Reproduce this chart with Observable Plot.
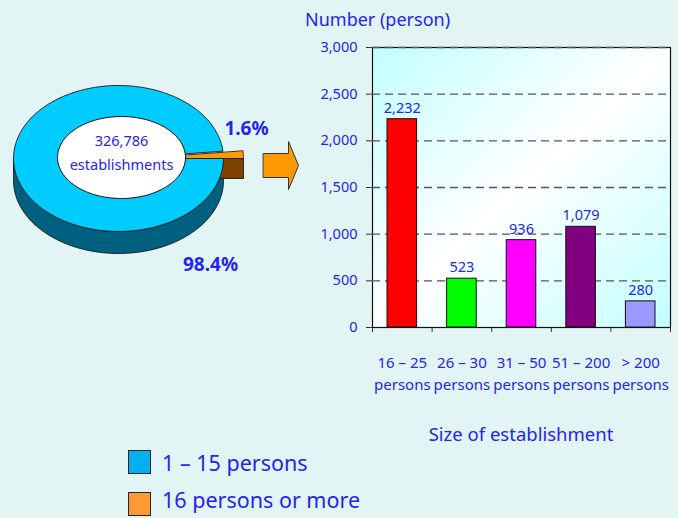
<!DOCTYPE html>
<html><head><meta charset="utf-8">
<script src="https://cdn.jsdelivr.net/npm/d3@7"></script>
<script src="https://cdn.jsdelivr.net/npm/@observablehq/plot@0.6"></script>
<style>
body{margin:0;background:#e2f5f4;}
#wrap{position:relative;width:678px;height:518px;background:#e2f5f4;font-family:"Noto Sans",sans-serif;color:#2424f0;overflow:hidden}
.abs{position:absolute;white-space:nowrap;line-height:1}
.sw{position:absolute;border:1.5px solid #222;box-sizing:border-box}
</style></head><body><div id="wrap"></div>
<script>
// ---- data ----
const sizeGroups = ["16 – 25", "26 – 30", "31 – 50", "51 – 200", "> 200"];
const sizeUnit = "persons";
const persons = [2232, 523, 936, 1079, 280];
const barColors = ["#ff0000", "#00ff00", "#ff00ff", "#800080", "#9999ff"];
const yTicks = [0, 500, 1000, 1500, 2000, 2500, 3000];
const pieLabels = ["1 – 15 persons", "16 persons or more"];
const pieShares = [98.4, 1.6];
const pieTopColors = ["#00ccff", "#ff9900"];
const pieSideColors = ["#006080", "#7f4000"];
const legendColors = ["#00b0f0", "#ff9933"];
const totalEstablishments = 326786;
const yTitle = "Number (person)";
const xTitle = "Size of establishment";

const BLUE = "#2424f0";
const fmt = d3.format(",");
const wrap = document.getElementById("wrap");

// ---- bar chart ----
const bars = persons.map((v, i) => ({i, group: sizeGroups[i], v, color: barColors[i]}));
const barPlot = Plot.plot({
  width: 378, height: 400,
  marginLeft: 72, marginRight: 8, marginTop: 47, marginBottom: 73,
  style: {background: "transparent", fontFamily: "Noto Sans", fontSize: "14px", color: BLUE, overflow: "visible"},
  x: {domain: [0, 5], axis: null},
  y: {domain: [0, 3000], axis: null},
  marks: [
    Plot.frame({fill: "url(#plotGrad)", stroke: "#111", strokeWidth: 1.2}),
    Plot.gridY(yTicks.filter(d => d > 0), {stroke: "#555", strokeOpacity: 1, strokeDasharray: "8,5", strokeWidth: 1.4}),
    Plot.rectY(bars, {x1: "i", x2: d => d.i + 1, y1: 0, y2: "v", fill: "color", stroke: "#111", strokeWidth: 1, insetLeft: 15, insetRight: 15}),
    Plot.text(bars, {x: d => d.i + 0.5, y: "v", text: d => fmt(d.v), dy: -11, fill: BLUE, fontSize: 14.5}),
    Plot.text(bars, {x: d => d.i + 0.5, y: 0, text: "group", dy: 36, fill: BLUE, fontSize: 15}),
    Plot.text(bars, {x: d => d.i + 0.5, y: 0, text: () => sizeUnit, dy: 58, fill: BLUE, fontSize: 15}),
    Plot.axisY(yTicks, {tickSize: 6, tickPadding: 9, tickFormat: fmt, fill: BLUE, stroke: "#333", label: null, fontSize: 14.5}),
    Plot.axisX(d3.range(6), {tickSize: 5, tickFormat: () => "", stroke: "#333", label: null}),
    Plot.ruleY([0], {stroke: "#111", strokeWidth: 1.2})
  ]
});
d3.select(barPlot).insert("defs", ":first-child").html(
  `<linearGradient id="plotGrad" x1="0" y1="0" x2="1" y2="1">
     <stop offset="0" stop-color="#c2ffff"/><stop offset="0.5" stop-color="#ffffff"/><stop offset="1" stop-color="#c2ffff"/>
   </linearGradient>`);
barPlot.style.position = "absolute";
barPlot.style.left = "300px";
barPlot.style.top = "0px";

// ---- 3D pie (left) ----
const cx = 118, cy = 158, rx = 105, ry = 73, depth = 22, explode = 20;
const hole = {cx: 121, cy: 157, rx: 64, ry: 41};
const tEnd = 2 * Math.PI * pieShares[1] / 100; // wedge angle for 16+ share
const pt = (t, dx = 0, dz = 0) => ({x: cx + dx + rx * Math.cos(t), y: cy - ry * Math.sin(t) + dz});
const arc = (a0, a1, dx = 0, dz = 0, n = 120) => d3.range(n + 1).map(k => pt(a0 + (a1 - a0) * k / n, dx, dz));

const mainSide = [...arc(Math.PI, 2 * Math.PI), ...arc(2 * Math.PI, Math.PI, 0, depth)];
const wedgeFace = [{x: cx + explode, y: cy}, {x: cx + explode + rx, y: cy}, {x: cx + explode + rx, y: cy + 20}, {x: cx + explode, y: cy + 20}];
const mainTop = [{x: cx, y: cy}, ...arc(tEnd, 2 * Math.PI)];
const wedgeTop = [{x: cx + explode, y: cy}, ...arc(0, tEnd, explode)];
const holePts = d3.range(121).map(k => {const t = 2 * Math.PI * k / 120; return {x: hole.cx + hole.rx * Math.cos(t), y: hole.cy - hole.ry * Math.sin(t)};});

// block arrow
const ax0 = 263, ax1 = 288, ax2 = 298, ayc = 165, bodyH = 12, headH = 24;
const arrowPts = [
  {x: ax0, y: ayc - bodyH}, {x: ax1, y: ayc - bodyH}, {x: ax1, y: ayc - headH}, {x: ax2, y: ayc},
  {x: ax1, y: ayc + headH}, {x: ax1, y: ayc + bodyH}, {x: ax0, y: ayc + bodyH}
];

const poly = (pts, fill, stroke = "#1a1a1a", sw = 0.9) =>
  Plot.line(pts, {x: "x", y: "y", fill, stroke, strokeWidth: sw, curve: "linear-closed"});

const piePlot = Plot.plot({
  width: 300, height: 300, margin: 0,
  style: {background: "transparent", fontFamily: "Noto Sans", overflow: "visible"},
  x: {type: "identity", axis: null},
  y: {type: "identity", axis: null},
  marks: [
    poly(mainSide, pieSideColors[0]),
    poly(wedgeFace, pieSideColors[1]),
    poly(mainTop, pieTopColors[0]),
    poly(wedgeTop, pieTopColors[1]),
    poly(holePts, "#ffffff", "#111", 1),
    poly(arrowPts, pieTopColors[1], "#333", 1),
    Plot.text([fmt(totalEstablishments), "establishments"], {x: hole.cx, y: (d, i) => hole.cy - 16 + i * 24, text: d => d, fill: BLUE, fontSize: 14.5}),
    Plot.text([pieShares[1]], {x: 246, y: 128, text: d => d.toFixed(1) + "%", fill: BLUE, fontSize: 19, fontWeight: "bold"}),
    Plot.text([pieShares[0]], {x: 210, y: 264, text: d => d.toFixed(1) + "%", fill: BLUE, fontSize: 19, fontWeight: "bold"})
  ]
});
piePlot.style.position = "absolute";
piePlot.style.left = "0px";
piePlot.style.top = "0px";

wrap.appendChild(piePlot);
wrap.appendChild(barPlot);

// titles
const addText = (txt, left, top, size, extra = "") => {
  const d = document.createElement("div");
  d.className = "abs";
  d.style.cssText += `left:${left}px;top:${top}px;font-size:${size}px;${extra}`;
  d.textContent = txt;
  wrap.appendChild(d);
  return d;
};
addText(yTitle, 305, 10, 18);
const xt = addText(xTitle, 0, 425, 18.5);
xt.style.left = (521 - xt.getBoundingClientRect().width / 2) + "px";

// legend
pieLabels.forEach((lab, i) => {
  const sw = document.createElement("div");
  sw.className = "sw";
  sw.style.cssText += `left:128px;top:${450 + i * 42}px;width:23px;height:24px;background:${legendColors[i]}`;
  wrap.appendChild(sw);
  addText(lab, 162, 452 + i * 37, 21.5);
});
</script></body></html>
